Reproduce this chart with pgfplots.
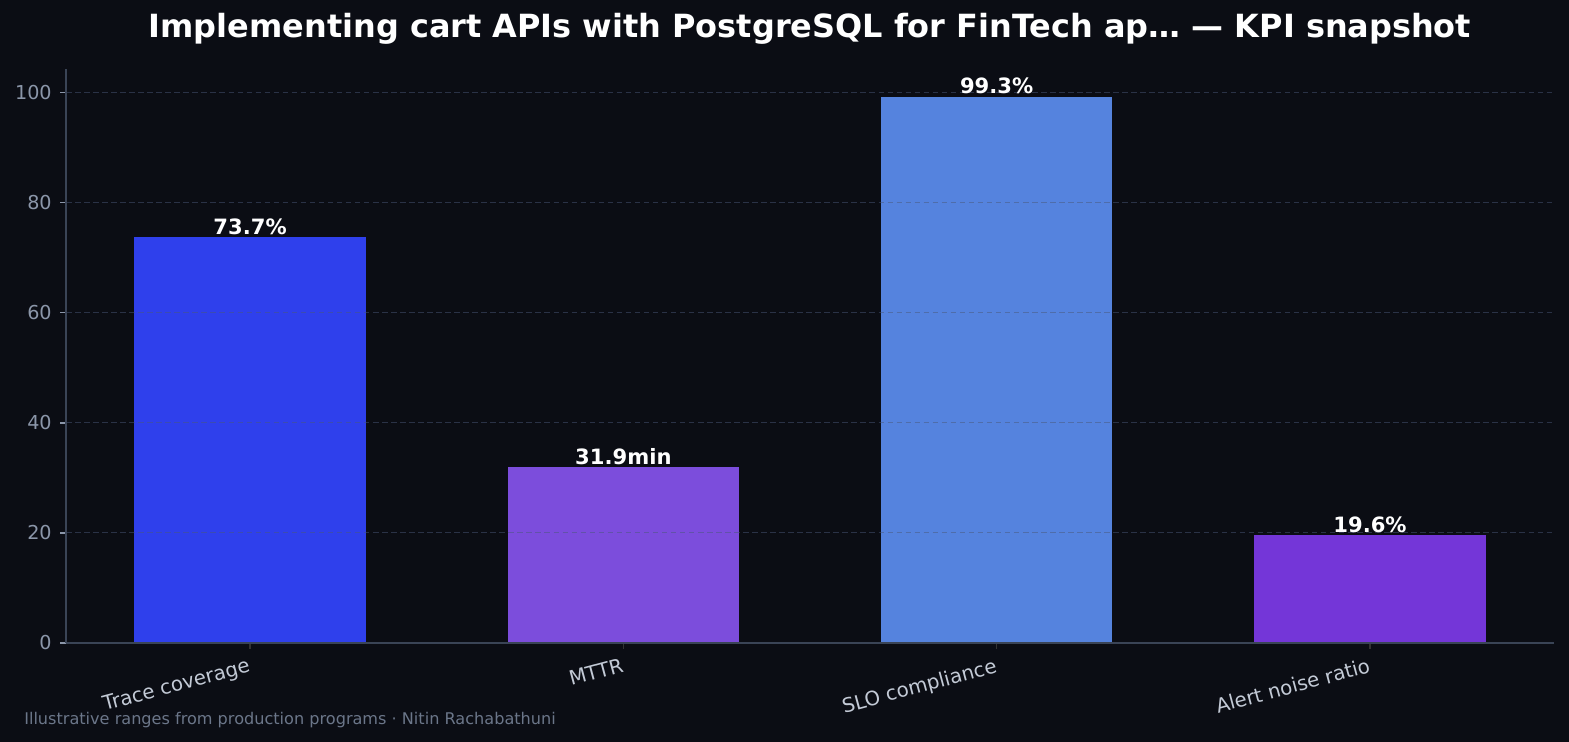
\documentclass[border=0pt]{standalone}
\usepackage{fontspec}
\setmainfont{DejaVu Sans}
\usepackage{pgfplots}
\pgfplotsset{compat=1.18}

\definecolor{bgc}{HTML}{0B0D14}
\definecolor{spinec}{HTML}{3A4456}
\definecolor{gridc}{HTML}{4A5878}
\definecolor{ytickc}{HTML}{8B96A9}
\definecolor{xtickc}{HTML}{C3CAD6}
\definecolor{footc}{HTML}{6B7689}
\definecolor{barA}{HTML}{2F40EC}
\definecolor{barB}{HTML}{7C4DDC}
\definecolor{barC}{HTML}{5583DE}
\definecolor{barD}{HTML}{7436D8}

\begin{document}
\begin{tikzpicture}[x=1pt,y=1pt]
% canvas
\fill[bgc] (0,0) rectangle (1129.68,534.24);

\begin{axis}[
  at={(47.52pt,71.28pt)}, anchor=south west,
  scale only axis,
  width=1071.36pt, height=413.28pt,
  xmin=-0.493, xmax=3.493,
  ymin=0, ymax=104.3,
  axis on top,
  axis lines*=left,
  axis line style={spinec, line width=1.2pt},
  xtick={0,1,2,3},
  xticklabels={Trace coverage, MTTR, SLO compliance, Alert noise ratio},
  ytick={0,20,40,60,80,100},
  x tick label style={rotate=15, anchor=north east, font=\fontsize{14.3}{16}\selectfont, text=xtickc, yshift=-2pt},
  y tick label style={font=\fontsize{13.8}{16}\selectfont, text=ytickc, xshift=-2.5pt},
  /pgf/number format/assume math mode=true,
  tick align=outside,
  major tick length=4.3pt,
  x tick style={color=black!80, line width=1pt},
  y tick style={color=ytickc, line width=1pt},
  ymajorgrids,
  grid style={gridc, opacity=0.5, dash pattern=on 4pt off 2.5pt, line width=0.8pt},
  ybar, bar width=0.62, bar shift=0pt,
  nodes near coords style={font=\fontsize{15.2}{17}\selectfont\bfseries, text=white, anchor=south, inner sep=1.5pt},
  clip=false,
]
\addplot[fill=barA, draw=none, nodes near coords={\pgfmathprintnumber[fixed,precision=1,fixed zerofill]{\pgfplotspointmeta}\%}] coordinates {(0,73.7)};
\addplot[fill=barB, draw=none, nodes near coords={\pgfmathprintnumber[fixed,precision=1,fixed zerofill]{\pgfplotspointmeta}min}] coordinates {(1,31.9)};
\addplot[fill=barC, draw=none, nodes near coords={\pgfmathprintnumber[fixed,precision=1,fixed zerofill]{\pgfplotspointmeta}\%}] coordinates {(2,99.3)};
\addplot[fill=barD, draw=none, nodes near coords={\pgfmathprintnumber[fixed,precision=1,fixed zerofill]{\pgfplotspointmeta}\%}] coordinates {(3,19.6)};
\end{axis}

% title and footer
\node[text=white, font=\fontsize{23}{27}\selectfont\bfseries] at (583.2,513.4)
  {Implementing cart APIs with PostgreSQL for FinTech ap… — KPI snapshot};
\node[anchor=west, inner sep=0pt, text=footc, font=\fontsize{11.6}{14}\selectfont] at (17.28,15.84)
  {Illustrative ranges from production programs · Nitin Rachabathuni};
\end{tikzpicture}
\end{document}
